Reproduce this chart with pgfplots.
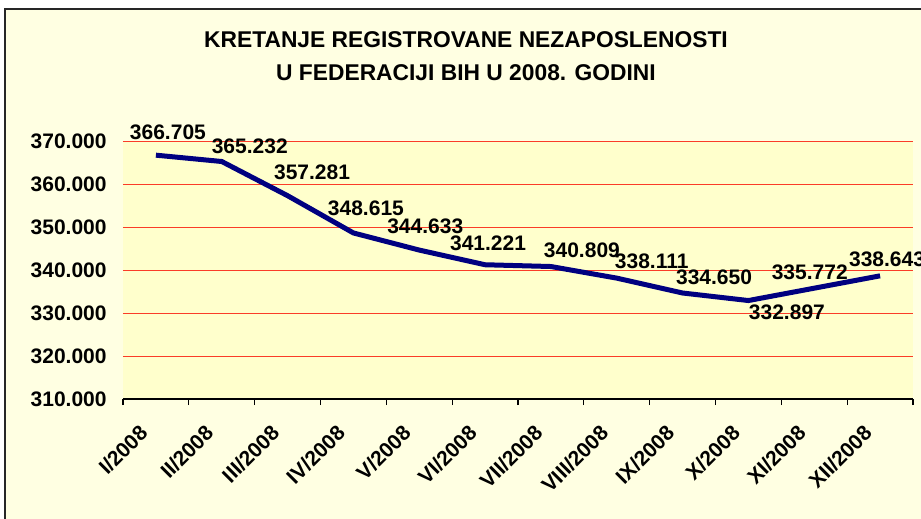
\documentclass[border=0pt]{standalone}
\usepackage{fontspec}
\setmainfont{Liberation Sans}
\usepackage{pgfplots}
\usepackage{pgfplotstable}
\pgfplotsset{compat=1.18}

\definecolor{outerbg}{RGB}{255,255,226}
\definecolor{plotbg}{RGB}{255,255,204}
\definecolor{gridred}{RGB}{250,60,40}
\definecolor{navyline}{RGB}{0,0,128}

% month index, value (thousands), label offsets in pt
\pgfplotstableread{
x  y        dx     dy
0  366.705  6      11.5
1  365.232  14     7.5
2  357.281  12.25  11.5
3  348.615  6.25   12.25
4  344.633  3      12
5  341.221  1.5    10.75
6  340.809  15.5   8
7  338.111  17.5   8.25
8  334.650  15.75  7.75
9  332.897  19.25  -6
10 335.772  -2.25  7.75
11 338.643  3.5    8.5
}\datatable

\begin{document}
\begin{tikzpicture}
\useasboundingbox (-61.5pt,-60pt) rectangle (399pt,199.5pt);
\clip (-61.5pt,-60pt) rectangle (399pt,199.5pt);
\fill[white] (-61.5pt,-60pt) rectangle (399pt,199.5pt);
\filldraw[fill=outerbg, draw=black!85, line width=0.8pt] (-59pt,-70pt) rectangle (410pt,195pt);

\begin{axis}[
    at={(0,0)}, anchor=south west,
    scale only axis,
    width=395pt, height=129pt,
    xmin=-0.5, xmax=11.5,
    ymin=310, ymax=370,
    clip=false,
    axis background/.style={fill=plotbg},
    axis x line*=bottom, axis y line*=left,
    y axis line style={draw=none},
    x axis line style={line width=0.6pt, black},
    xtick={0,...,11},
    xticklabels={I/2008,II/2008,III/2008,IV/2008,V/2008,VI/2008,VII/2008,VIII/2008,IX/2008,X/2008,XI/2008,XII/2008},
    minor xtick={-0.5,0.5,...,11.5},
    ytick={310,320,...,370},
    major tick length=0pt,
    minor tick length=3pt,
    tick align=outside,
    minor tick style={black, line width=0.6pt},
    ymajorgrids,
    grid style={gridred, line width=0.5pt},
    tick label style={font=\fontsize{10.5}{12}\selectfont\bfseries},
    xticklabel style={xshift=-6pt, yshift=-15pt, rotate=45, anchor=east, inner sep=0pt},
    yticklabel style={inner sep=0pt, xshift=-8pt},
    /pgf/number format/.cd, fixed, fixed zerofill, precision=3, use period, assume math mode=true,
]
\addplot[navyline, line width=2.5pt, line join=round, mark=none,
    nodes near coords, point meta=y,
    visualization depends on={\thisrow{dx}\as\dx},
    visualization depends on={\thisrow{dy}\as\dy},
    every node near coord/.append style={font=\fontsize{10.5}{12}\selectfont\bfseries, black,
        anchor=center, inner sep=0pt, xshift=\dx pt, yshift=\dy pt}
] table[x=x, y=y] {\datatable};
\end{axis}

\node[font=\fontsize{11.4}{13}\selectfont\bfseries] at (171.5pt,179.75pt) {KRETANJE REGISTROVANE NEZAPOSLENOSTI};
\node[font=\fontsize{11.4}{13}\selectfont\bfseries] at (171.5pt,163pt) {U FEDERACIJI BIH U 2008. GODINI};
\end{tikzpicture}
\end{document}
